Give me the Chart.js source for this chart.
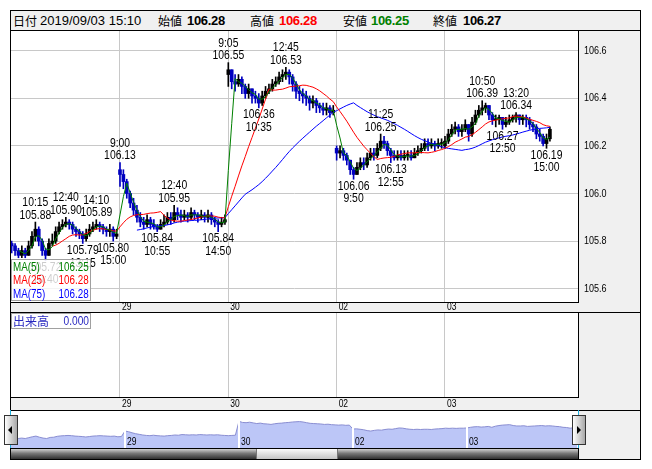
<!DOCTYPE html>
<html>
<head>
<meta charset="utf-8">
<script src="https://cdn.jsdelivr.net/npm/chart.js@4.4.1/dist/chart.umd.min.js"></script>
<style>
body{margin:0;width:652px;height:469px;background:#fff;position:relative;overflow:hidden;font-family:"Liberation Sans",Arial,sans-serif}
.a{position:absolute}
#frame{left:10px;top:10px;width:629px;height:448px;border:1px solid #000;background:#f0f0f0}
.ln{position:absolute;background:#000}
.h{position:absolute;top:12px;height:17px;line-height:17px;font-size:13px;white-space:nowrap}
.jp{font-family:"Noto Sans CJK JP",sans-serif;font-size:12px}
.b{font-weight:bold;letter-spacing:-0.3px}
#leg{left:11px;top:259px;width:78px;height:40px;border:1px solid #a0a0a0;background:rgba(255,255,255,0.8);font-size:12px}
#leg span{position:absolute;line-height:13px;white-space:nowrap;transform:scaleX(0.82)}
#leg .l{transform-origin:left center}
#leg .r{transform-origin:right center}
#vol{left:11px;top:313px;width:78px;height:14px;border:1px solid #a0a0a0;background:#fff;color:#2828c0;font-size:12px}
.hd{position:absolute;top:415px;width:12px;height:28px;border:1px solid #333;background:linear-gradient(to right,#fff,#a8a8a8)}
canvas{position:absolute}
</style>
</head>
<body>
<div id="frame" class="a"></div>

<span class="h jp" style="left:13px">日付</span>
<span class="h" style="left:40px">2019/09/03 15:10</span>
<span class="h jp" style="left:158px">始値</span>
<span class="h b" style="left:187px">106.28</span>
<span class="h jp" style="left:250px">高値</span>
<span class="h b" style="left:279px;color:#f00">106.28</span>
<span class="h jp" style="left:343px">安値</span>
<span class="h b" style="left:371px;color:#008000">106.25</span>
<span class="h jp" style="left:433px">終値</span>
<span class="h b" style="left:463px">106.27</span>

<canvas id="main" width="629" height="281" style="left:11px;top:31px"></canvas>
<canvas id="volume" width="629" height="97" style="left:11px;top:313px"></canvas>
<canvas id="over" width="567" height="37" style="left:11px;top:411px"></canvas>

<div class="ln" style="left:10px;top:30px;width:631px;height:1px"></div>
<div class="ln" style="left:10px;top:312px;width:631px;height:1px"></div>
<div class="ln" style="left:10px;top:410px;width:631px;height:1px"></div>
<div class="ln" style="left:578px;top:410px;width:1px;height:49px"></div>

<div class="a" style="left:10px;top:410px;width:1px;height:38px;background:#20b0e0"></div>
<div class="a" style="left:578px;top:410px;width:1px;height:38px;background:#20b0e0"></div>
<div class="a" style="left:11px;top:448px;width:567px;height:10px;border-top:1px solid #000;background:linear-gradient(#d0d0d0,#777 45%,#303030)"></div>
<div class="a" style="left:256px;top:449px;width:80px;height:10px;border-left:1px solid #777;border-right:1px solid #777;background:linear-gradient(#fbfbfb,#c4c4c4)"></div>
<div class="hd" style="left:4px"><div class="a" style="left:3px;top:10px;width:0;height:0;border-top:4px solid transparent;border-bottom:4px solid transparent;border-right:4px solid #000"></div></div>
<div class="hd" style="left:572px"><div class="a" style="left:4px;top:10px;width:0;height:0;border-top:4px solid transparent;border-bottom:4px solid transparent;border-left:4px solid #000"></div></div>

<div id="leg" class="a">
  <span class="l" style="left:1px;top:1px;color:#008000">MA(5)</span><span class="r" style="right:1px;top:1px;color:#008000">106.25</span>
  <span class="l" style="left:1px;top:14px;color:#f00">MA(25)</span><span class="r" style="right:1px;top:14px;color:#f00">106.28</span>
  <span class="l" style="left:1px;top:28px;color:#00f">MA(75)</span><span class="r" style="right:1px;top:28px;color:#00f">106.28</span>
</div>
<div id="vol" class="a"><span class="a jp" style="left:1px;top:-1px;line-height:16px;color:#2828c0">出来高</span><span class="a" style="right:1px;top:0;line-height:14px;transform:scaleX(0.85);transform-origin:right center">0.000</span></div>

<script>
// 10-minute bars, 32 per session (9:00-11:20, 12:30-15:10), days 28, 29, 30, 02, 03
const closeP=[
105.78,105.76,105.74,105.76,105.74,105.78,105.82,105.85,105.80,105.76,105.74,105.79,105.80,105.84,105.86,105.87,105.88,105.87,105.85,105.84,105.83,105.81,105.83,105.85,105.86,105.87,105.86,105.85,105.84,105.85,105.82,105.83,
106.08,106.05,106.00,105.96,105.93,105.90,105.88,105.87,105.89,105.87,105.86,105.85,105.87,105.88,105.90,105.89,105.92,105.91,105.90,105.91,105.90,105.92,105.91,105.90,105.91,105.90,105.91,105.89,105.88,105.87,105.88,105.89,
106.52,106.47,106.46,106.48,106.45,106.42,106.44,106.41,106.40,106.38,106.41,106.43,106.44,106.46,106.47,106.49,106.50,106.51,106.49,106.46,106.43,106.42,106.41,106.40,106.38,106.39,106.37,106.36,106.35,106.36,106.34,106.35,
106.17,106.18,106.16,106.14,106.10,106.08,106.11,106.13,106.12,106.15,106.17,106.16,106.19,106.22,106.21,106.18,106.16,106.15,106.16,106.15,106.16,106.16,106.15,106.17,106.18,106.19,106.21,106.20,106.21,106.20,106.21,106.21,
106.22,106.25,106.27,106.28,106.26,106.27,106.29,106.25,106.30,106.33,106.35,106.36,106.37,106.33,106.31,106.31,106.32,106.29,106.30,106.31,106.32,106.33,106.31,106.32,106.31,106.29,106.28,106.25,106.24,106.21,106.23,106.27];
const highP=[
105.80,105.79,105.77,105.78,105.77,105.80,105.84,105.88,105.86,105.81,105.77,105.81,105.83,105.86,105.88,105.89,105.90,105.89,105.88,105.86,105.85,105.84,105.85,105.87,105.88,105.89,105.88,105.87,105.86,105.87,105.86,105.85,
106.13,106.10,106.06,106.01,105.98,105.95,105.92,105.90,105.91,105.90,105.89,105.87,105.89,105.91,105.92,105.92,105.95,105.94,105.93,105.93,105.92,105.94,105.93,105.92,105.93,105.92,105.93,105.92,105.90,105.89,105.90,105.91,
106.55,106.52,106.50,106.50,106.49,106.46,106.46,106.44,106.43,106.42,106.43,106.45,106.46,106.48,106.49,106.51,106.52,106.53,106.52,106.50,106.47,106.45,106.44,106.43,106.41,106.41,106.40,106.38,106.38,106.38,106.37,106.37,
106.20,106.20,106.19,106.17,106.14,106.11,106.13,106.15,106.15,106.17,106.19,106.19,106.21,106.25,106.24,106.22,106.19,106.18,106.18,106.18,106.18,106.18,106.18,106.19,106.20,106.21,106.23,106.23,106.23,106.22,106.23,106.23,
106.24,106.27,106.29,106.30,106.29,106.29,106.31,106.29,106.32,106.35,106.37,106.39,106.38,106.37,106.34,106.33,106.33,106.32,106.32,106.33,106.33,106.34,106.33,106.33,106.33,106.32,106.30,106.29,106.27,106.25,106.25,106.28];
const lowP=[
105.75,105.74,105.73,105.73,105.73,105.74,105.77,105.80,105.78,105.74,105.72,105.74,105.78,105.79,105.83,105.85,105.86,105.85,105.83,105.82,105.81,105.79,105.80,105.82,105.84,105.85,105.84,105.83,105.82,105.82,105.80,105.81,
106.03,106.02,105.98,105.94,105.91,105.88,105.86,105.85,105.86,105.85,105.85,105.84,105.85,105.86,105.87,105.87,105.88,105.89,105.88,105.89,105.88,105.89,105.89,105.88,105.89,105.88,105.88,105.87,105.86,105.84,105.86,105.87,
106.45,106.44,106.43,106.45,106.42,106.40,106.40,106.38,106.38,106.36,106.37,106.40,106.42,106.43,106.45,106.46,106.47,106.48,106.46,106.43,106.40,106.39,106.38,106.37,106.35,106.36,106.34,106.34,106.33,106.33,106.32,106.33,
106.14,106.15,106.14,106.12,106.08,106.06,106.08,106.10,106.10,106.11,106.14,106.14,106.15,106.18,106.19,106.16,106.13,106.14,106.14,106.14,106.14,106.14,106.14,106.15,106.16,106.17,106.18,106.18,106.19,106.18,106.19,106.19,
106.19,106.21,106.24,106.25,106.24,106.24,106.26,106.22,106.24,106.29,106.32,106.33,106.34,106.31,106.29,106.28,106.29,106.27,106.28,106.29,106.30,106.30,106.29,106.29,106.28,106.27,106.26,106.23,106.22,106.20,106.19,106.22];
// opening price of the first bar of each session (gap opens)
const gapIdx=[0,32,64,96,128];
const gapOpen=[105.79,106.10,106.50,106.19,106.20];

const dayTicks=[32,64,96,128];
const dayLabels=['29','30','02','03'];
const yTicks=[105.6,105.8,106.0,106.2,106.4,106.6];

// moving averages; periods halved because the bars here are 10 min
const maSpan=[3,13,38];
const maColor=['#008000','#ff0000','#0000ff'];

// high / low markers
const annIdx=[7,16,25,32,48,64,81,109,139,149,10,21,30,43,61,73,101,112,145,158];
const annVal=[105.88,105.90,105.89,106.13,105.95,106.55,106.53,106.25,106.39,106.34,105.72,105.79,105.80,105.84,105.84,106.36,106.06,106.13,106.27,106.19];
const annTime=['10:15','12:40','14:10','9:00','12:40','9:05','12:45','11:25','10:50','13:20','10:40','13:15','15:00','10:55','14:50','10:35','9:50','12:55','12:50','15:00'];
const annHigh=[1,1,1,1,1,1,1,1,1,1,0,0,0,0,0,0,0,0,0,0];

const FONT='"Liberation Sans",Arial,sans-serif';
const N=closeP.length;
const openP=closeP.map((c,i)=>{const g=gapIdx.indexOf(i); return g>=0?gapOpen[g]:closeP[i-1];});
const candleCol=closeP.map((c,i)=>c>=openP[i]?'#000000':'#0000c0');

function sma(n){
  const out=[];
  for(let i=n-1;i<N;i++){ let s=0; for(let k=i-n+1;k<=i;k++) s+=closeP[k]; out.push({x:i,y:s/n}); }
  return out;
}

// condensed text, the original uses a narrow bitmap font
function cText(ctx,t,x,y,size,align,sx){
  ctx.save(); ctx.translate(x,y); ctx.scale(sx||0.8,1);
  ctx.font=size+'px '+FONT; ctx.textAlign=align; ctx.fillText(t,0,0); ctx.restore();
}

const whiteArea={id:'whiteArea',beforeDraw(c){const a=c.chartArea,ctx=c.ctx;ctx.save();ctx.fillStyle='#fff';ctx.fillRect(a.left,a.top,a.right-a.left,a.bottom-a.top);ctx.restore();}};

const axisText={id:'axisText',afterDraw(c){
  const ctx=c.ctx,xs=c.scales.x,ys=c.scales.y;
  ctx.save(); ctx.fillStyle='#000'; ctx.textBaseline='middle';
  dayTicks.forEach((v,i)=>cText(ctx,dayLabels[i],xs.getPixelForValue(v)+2,(xs.top+xs.bottom)/2+0.5,10,'left',0.85));
  if(c.canvas.id==='main') yTicks.forEach(v=>cText(ctx,v.toFixed(1),ys.left+6,ys.getPixelForValue(v),11,'left',0.82));
  ctx.restore();
}};

const markers={id:'markers',afterDatasetsDraw(c){
  const ctx=c.ctx,xs=c.scales.x,ys=c.scales.y;
  ctx.save(); ctx.fillStyle='#000'; ctx.textBaseline='middle';
  annIdx.forEach((ix,k)=>{
    const x=xs.getPixelForValue(ix), y=ys.getPixelForValue(annVal[k]);
    const v=annVal[k].toFixed(2);
    if(annHigh[k]){ cText(ctx,v,x,y-7,13,'center'); cText(ctx,annTime[k],x,y-19.5,13,'center'); }
    else { cText(ctx,v,x,y+7,13,'center'); cText(ctx,annTime[k],x,y+19.5,13,'center'); }
  });
  ctx.restore();
}};

function xAxis(h){
  return {type:'linear',min:-0.2,max:167.3,offset:false,
    grid:{color:'#c8c8c8',offset:false,drawTicks:false},
    border:{display:true,color:'#000'},
    afterBuildTicks:s=>{s.ticks=dayTicks.map(v=>({value:v}));},
    afterFit:s=>{s.height=h;s.paddingLeft=0;s.paddingRight=0;},
    ticks:{display:false}};
}
function yAxis(min,max,grid){
  return {position:'right',min:min,max:max,
    grid:{display:grid,color:'#c8c8c8',drawTicks:false},
    border:{display:true,color:'#000'},
    afterBuildTicks:s=>{s.ticks=yTicks.map(v=>({value:v}));},
    afterFit:s=>{s.width=62;s.paddingTop=0;s.paddingBottom=0;},
    ticks:{display:false}};
}

new Chart(document.getElementById('main'),{
  type:'bar',
  data:{datasets:[
    ...maSpan.map((n,k)=>({type:'line',data:sma(n),borderColor:maColor[k],borderWidth:1,pointRadius:0,tension:0,order:k+1})),
    {type:'bar',data:closeP.map((c,i)=>({x:i,y:[openP[i],c]})),backgroundColor:candleCol,barThickness:3,minBarLength:1,grouped:false,order:10},
    {type:'bar',data:closeP.map((c,i)=>({x:i,y:[lowP[i],highP[i]]})),backgroundColor:candleCol,barThickness:1,grouped:false,order:11}
  ]},
  options:{responsive:false,animation:false,events:[],layout:{padding:0},
    plugins:{legend:{display:false},tooltip:{enabled:false}},
    scales:{x:xAxis(10),y:yAxis(105.544,106.683,true)}},
  plugins:[whiteArea,markers,axisText]
});

new Chart(document.getElementById('volume'),{
  type:'bar',
  data:{datasets:[{data:[]}]},
  options:{responsive:false,animation:false,events:[],layout:{padding:0},
    plugins:{legend:{display:false},tooltip:{enabled:false}},
    scales:{x:xAxis(13),y:yAxis(0,1,false)}},
  plugins:[whiteArea,axisText]
});

const overLabels={id:'overLabels',afterDraw(c){
  const ctx=c.ctx,xs=c.scales.x,a=c.chartArea;
  ctx.save(); ctx.fillStyle='#000'; ctx.textBaseline='bottom';
  dayTicks.forEach((v,i)=>cText(ctx,dayLabels[i],xs.getPixelForValue(v)+2,a.bottom-1,10,'left',0.85));
  ctx.restore();
}};

new Chart(document.getElementById('over'),{
  type:'line',
  data:{datasets:[{data:closeP.map((c,i)=>({x:i,y:c})),borderColor:'#8a8ed2',borderWidth:1,
    backgroundColor:'#bcc6f7',fill:'start',pointRadius:0,tension:0}]},
  options:{responsive:false,animation:false,events:[],layout:{padding:0},
    plugins:{legend:{display:false},tooltip:{enabled:false}},
    scales:{
      x:{type:'linear',min:0,max:159.2,
        grid:{color:'#fff',lineWidth:2,z:1,drawTicks:false},border:{display:false},
        afterBuildTicks:s=>{s.ticks=dayTicks.map(v=>({value:v}));},
        afterFit:s=>{s.height=0;s.paddingLeft=0;s.paddingRight=0;},
        ticks:{display:false}},
      y:{display:false,min:105.31,max:106.99}
    }},
  plugins:[whiteArea,overLabels]
});
</script>
</body>
</html>
